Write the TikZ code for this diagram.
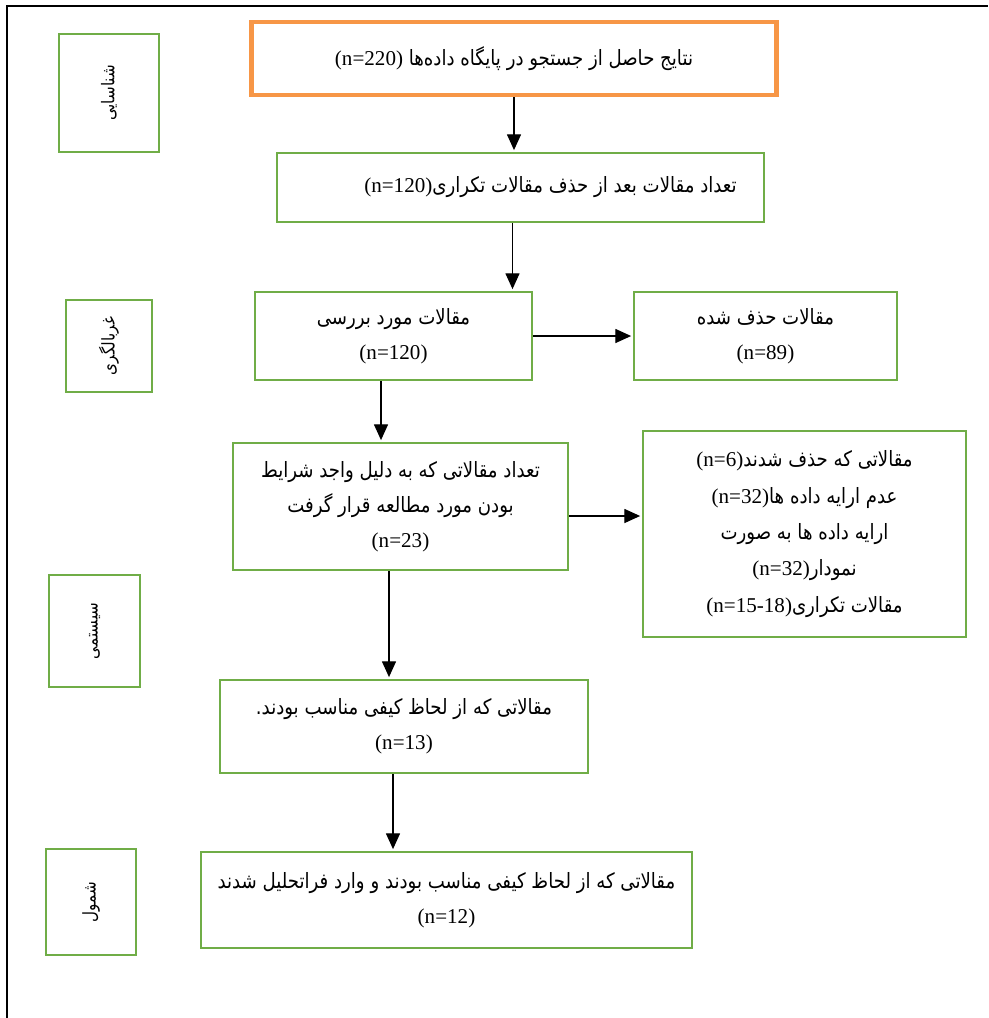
\documentclass[tikz,border=0pt]{standalone}
\usepackage{fontspec}
\setmainfont{Liberation Serif}
\newfontfamily\fafont[Script=Arabic,FakeStretch=0.86]{DejaVu Sans}
\TeXXeTstate=1
\usepackage{xcolor}
\usepackage{tikz}
\usetikzlibrary{arrows.meta}

\definecolor{boxgreen}{RGB}{112,173,71}
\definecolor{boxorange}{RGB}{247,150,70}
\newcommand{\fa}[1]{{\fafont\beginR #1\endR}}
\newcommand{\nval}[1]{{\rmfamily\beginL(n=#1)\endL}}

\begin{document}
\begin{tikzpicture}[x=0.02cm,y=-0.02cm,
	box/.style={draw=boxgreen,line width=1.3pt,align=center,inner sep=2pt,font=\fontsize{12}{20}\selectfont},
	side/.style={draw=boxgreen,line width=1.3pt,rotate=90,font=\fontsize{10}{12}\selectfont},
	arr/.style={-{Triangle[length=9pt,width=8pt]},line width=0.7pt,shorten >=1pt}]
	\useasboundingbox (0,0) rectangle (988,1018);
	\draw[line width=1.6pt] (7,1018) -- (7,6) -- (988,6);
	
	% side labels
	\node[side,minimum width=2.36cm,minimum height=2.0cm] (sid) at (109,93) {\fa{شناسایی}};
	\node[side,minimum width=1.84cm,minimum height=1.72cm] (sscr) at (109,346) {\fa{غربالگری}};
	\node[side,minimum width=2.24cm,minimum height=1.82cm] (ssys) at (94.5,631) {\fa{سیستمی}};
	\node[side,minimum width=2.12cm,minimum height=1.8cm] (sinc) at (91,902) {\fa{شمول}};
	
	% main boxes
	\node[box,draw=boxorange,line width=2.8pt,minimum width=10.52cm,minimum height=1.46cm] (res) at (514,58.5)
		{\fa{نتایج حاصل از جستجو در پایگاه داده‌ها \nval{220}}};
	\node[box,minimum width=9.74cm,minimum height=1.38cm] (dedup) at (520.5,187.5)
		{\hspace*{1.2cm}\fa{تعداد مقالات بعد از حذف مقالات تکراری\nval{120}}};
	\node[box,minimum width=5.54cm,minimum height=1.76cm] (rev) at (393.5,336)
		{\fa{مقالات مورد بررسی}\\ \nval{120}};
	\node[box,minimum width=5.26cm,minimum height=1.76cm] (del) at (765.5,336)
		{\fa{مقالات حذف شده}\\ \nval{89}};
	\node[box,minimum width=6.7cm,minimum height=2.54cm] (elig) at (400.5,506.5)
		{\fa{تعداد مقالاتی که به دلیل واجد شرایط}\\ \fa{بودن مورد مطالعه قرار گرفت}\\ \nval{23}};
	\node[box,font=\fontsize{12}{20.7}\selectfont,minimum width=6.46cm,minimum height=4.12cm] (excl) at (804.5,534)
		{\fa{مقالاتی که حذف شدند\nval{6}}\\ \fa{عدم ارایه داده ها\nval{32}}\\ \fa{ارایه داده ها به صورت}\\
		 \fa{نمودار\nval{32}}\\ \fa{مقالات تکراری\nval{15-18}}};
	\node[box,minimum width=7.36cm,minimum height=1.86cm] (qual) at (404,726.5)
		{\fa{مقالاتی که از لحاظ کیفی مناسب بودند.}\\ \nval{13}};
	\node[box,minimum width=9.82cm,minimum height=1.92cm] (incl) at (446.5,900)
		{\fa{مقالاتی که از لحاظ کیفی مناسب بودند و وارد فراتحلیل شدند}\\ \nval{12}};
	
	\draw[arr] (res.south) -- (res.south |- dedup.north);
	\draw[arr] ([xshift=-0.16cm]dedup.south) -- ([xshift=-0.16cm]dedup.south |- rev.north);
	\draw[arr] (rev.east) -- (del.west);
	\draw[arr] ([xshift=-0.25cm]rev.south) -- ([xshift=-0.25cm]rev.south |- elig.north);
	\draw[arr] ([yshift=-0.19cm]elig.east) -- ([yshift=-0.19cm]elig.east -| excl.west);
	\draw[arr] ([xshift=-0.23cm]elig.south) -- ([xshift=-0.23cm]elig.south |- qual.north);
	\draw[arr] ([xshift=-0.22cm]qual.south) -- ([xshift=-0.22cm]qual.south |- incl.north);
\end{tikzpicture}
\end{document}
